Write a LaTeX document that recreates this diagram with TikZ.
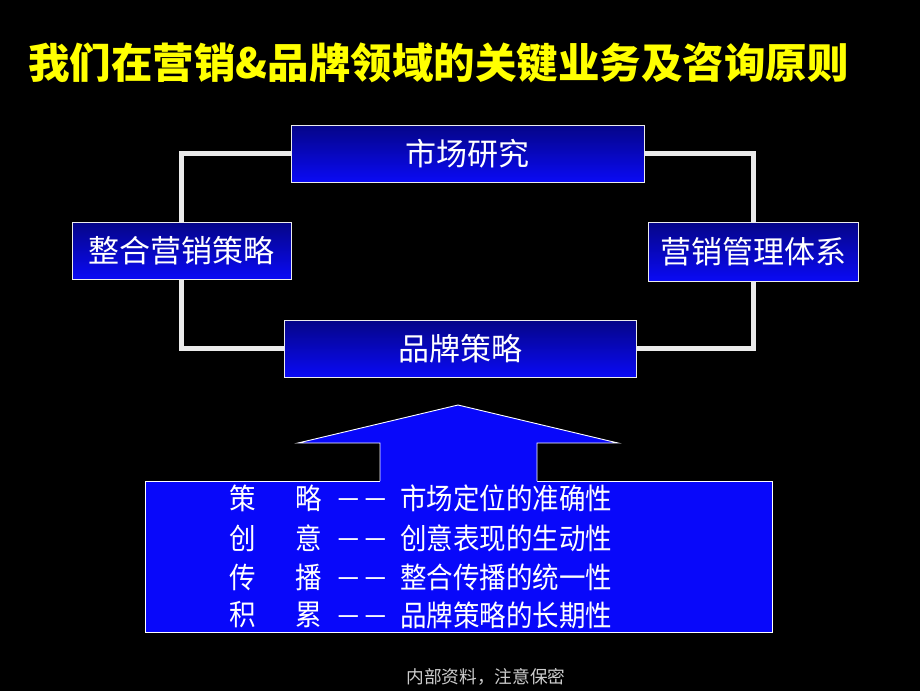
\documentclass[tikz,border=0pt]{standalone}
\usepackage{fontspec}
\usepackage{graphicx}
\newfontfamily\cjk{Noto Sans CJK SC}
\usetikzlibrary{backgrounds}
\definecolor{titley}{RGB}{255,255,0}
\definecolor{boxtop}{RGB}{5,5,135}
\definecolor{boxbot}{RGB}{10,10,245}
\definecolor{plainblue}{RGB}{8,8,250}
\definecolor{linegray}{RGB}{235,235,235}
\definecolor{footgray}{RGB}{205,205,205}
\newcommand{\tallrow}[1]{\scalebox{1}[1.1]{#1}}
\tikzset{
  topicbox/.style={draw=white!85!gray, line width=0.9pt, top color=boxtop, bottom color=boxbot,
    text=white, inner sep=0pt, font=\cjk\fontsize{31}{36}\selectfont},
  loopline/.style={draw=linegray, line width=5pt},
  rowtext/.style={text=white, inner sep=0pt, font=\cjk\fontsize{26.5}{30}\selectfont},
}
\begin{document}
\begin{tikzpicture}[x=1pt,y=-1pt]
\begin{pgfonlayer}{background}
\fill[black] (0,0) rectangle (920,691);
\end{pgfonlayer}
\useasboundingbox (0,0) rectangle (920,691);

\node[text=titley, inner sep=0pt, font=\cjk\bfseries\fontsize{41.5}{46}\selectfont] (title) at (438.5,63) {我们在营销\&品牌领域的关键业务及咨询原则};

\node[topicbox, minimum width=353pt, minimum height=57pt] (sc) at (467.5,153.5) {市场研究};
\node[topicbox, minimum width=219pt, minimum height=57pt] (zh) at (181.5,250.5) {整合营销策略};
\node[topicbox, minimum width=210pt, minimum height=59pt] (yx) at (753,251.5) {营销管理体系};
\node[topicbox, minimum width=352pt, minimum height=57pt] (pp) at (460,348.5) {品牌策略};

\begin{pgfonlayer}{background}
\draw[loopline] (zh.north) |- (sc.west);
\draw[loopline] (sc.east) -| (yx.north);
\draw[loopline] (zh.south) |- (pp.west);
\draw[loopline] (pp.east) -| (yx.south);
\end{pgfonlayer}

\node[draw=white, line width=0.9pt, fill=plainblue, minimum width=627pt, minimum height=151pt, inner sep=0pt] (base) at (458.5,556.5) {};

\fill[plainblue] (380,483) -- (380,443) -- (298,443) -- (458,405) -- (618,443) -- (537,443) -- (537,483) -- cycle;
\draw[white, line width=0.9pt, line join=miter] (380,481) -- (380,443) -- (298,443) -- (458,405) -- (618,443) -- (537,443) -- (537,481);

\node[rowtext] (a1) at (243,498) {\tallrow{策}};
\node[rowtext] (a2) at (309,498) {\tallrow{略}};
\node[rowtext] (a3) at (362,504) {－－};
\node[rowtext, anchor=west] (a4) at (400,498) {\tallrow{市场定位的准确性}};

\node[rowtext] (b1) at (243,538) {\tallrow{创}};
\node[rowtext] (b2) at (309,538) {\tallrow{意}};
\node[rowtext] (b3) at (362,544) {－－};
\node[rowtext, anchor=west] (b4) at (400,538) {\tallrow{创意表现的生动性}};

\node[rowtext] (c1) at (243,577) {\tallrow{传}};
\node[rowtext] (c2) at (309,577) {\tallrow{播}};
\node[rowtext] (c3) at (362,583) {－－};
\node[rowtext, anchor=west] (c4) at (400,577) {\tallrow{整合传播的统一性}};

\node[rowtext] (d1) at (243,615) {\tallrow{积}};
\node[rowtext] (d2) at (309,615) {\tallrow{累}};
\node[rowtext] (d3) at (362,621) {－－};
\node[rowtext, anchor=west] (d4) at (400,615) {\tallrow{品牌策略的长期性}};

\node[text=footgray, inner sep=0pt, font=\cjk\fontsize{17.7}{20}\selectfont] (foot) at (486,677) {内部资料，注意保密};
\end{tikzpicture}
\end{document}
